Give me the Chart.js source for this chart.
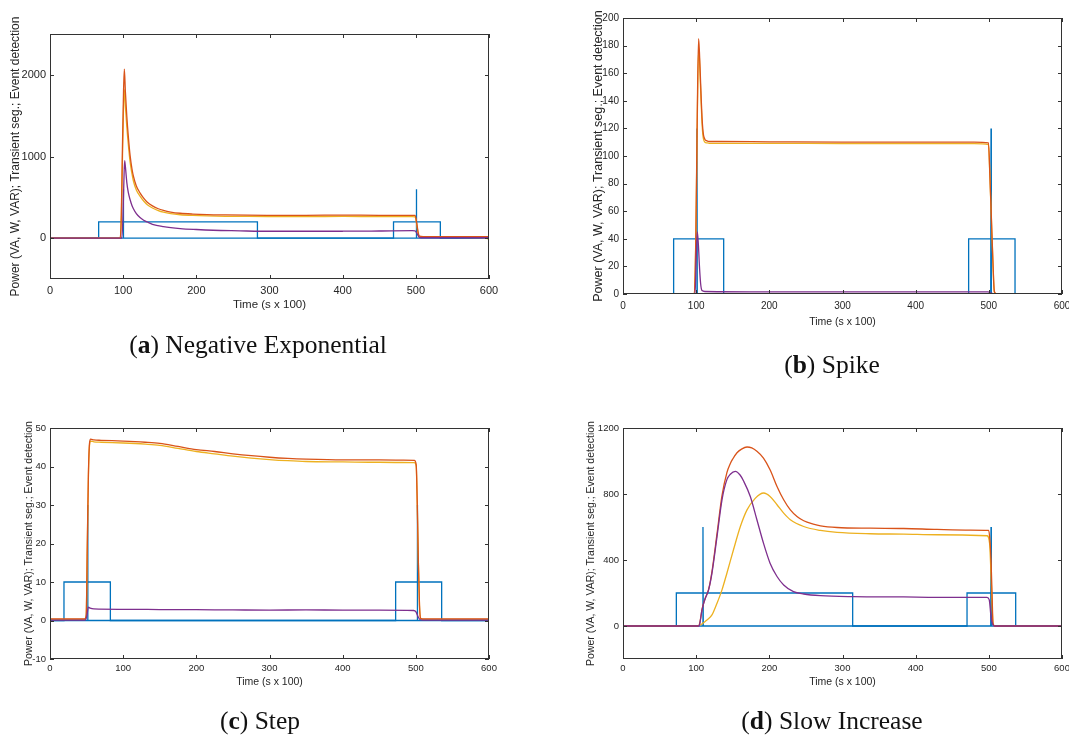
<!DOCTYPE html>
<html>
<head>
<meta charset="utf-8">
<title>Event detection examples</title>
<script src="https://cdn.jsdelivr.net/npm/chart.js@4.4.1/dist/chart.umd.min.js"></script>
<style>
    html, body { margin: 0; padding: 0; background: #fff; overflow: hidden; }
    #page { position: relative; width: 1069px; height: 735px; }
    #page canvas { position: absolute; left: 0; top: 0; }
    .caption {
        position: absolute;
        width: 400px;
        text-align: center;
        font-family: 'Liberation Serif', 'DejaVu Serif', serif;
        font-size: 25.5px;
        line-height: 24px;
        color: #111;
        white-space: nowrap;
    }
</style>
</head>
<body>
<div id="page">
    <canvas id="chart-a" width="1069" height="735"></canvas>
    <canvas id="chart-b" width="1069" height="735"></canvas>
    <canvas id="chart-c" width="1069" height="735"></canvas>
    <canvas id="chart-d" width="1069" height="735"></canvas>
    <div class="caption" style="left:58px; top:333px;">(<b>a</b>) Negative Exponential</div>
    <div class="caption" style="left:632px; top:353px;">(<b>b</b>) Spike</div>
    <div class="caption" style="left:60px; top:709px;">(<b>c</b>) Step</div>
    <div class="caption" style="left:632px; top:709px;">(<b>d</b>) Slow Increase</div>
</div>

<script>
// Shared axis ticks
const xTicks = [0, 100, 200, 300, 400, 500, 600];

// (a) Negative exponential
const aYTicks = [0, 1000, 2000];
const aTimeVA = [0, 96, 97.5, 99, 100.5, 101.6, 103, 105, 107, 109.5, 112, 114, 118, 123, 128, 133, 140, 148, 155, 165, 178, 195, 215, 240, 270, 300, 350, 400, 450, 495, 499, 501, 503, 505, 510, 550, 590, 598, 600];
const aVA = [0, 0, 300, 1100, 1800, 2070, 1800, 1490, 1250, 1010, 850, 760, 640, 555, 490, 440, 395, 360, 340, 320, 305, 295, 288, 284, 281, 280, 280, 282, 280, 280, 278, 200, 80, 25, 20, 20, 20, 20, 20];
const aW = [0, 0, 250, 950, 1600, 1820, 1620, 1360, 1150, 930, 790, 700, 590, 515, 455, 410, 370, 338, 318, 300, 287, 278, 272, 268, 266, 265, 265, 266, 265, 265, 262, 180, 60, 15, 12, 10, 8, -5, -18];
const aTimeVAR = [0, 98, 99.5, 101, 102, 103, 105, 107, 109.5, 112, 114, 118, 123, 128, 133, 140, 155, 178, 200, 223, 260, 287, 350, 400, 450, 495, 499, 502, 505, 510, 600];
const aVAR = [0, 0, 200, 700, 950, 880, 680, 560, 470, 400, 360, 300, 252, 220, 198, 170, 142, 118, 106, 97, 90, 85, 85, 85, 88, 92, 90, 50, 8, 5, 5];
const aTimeSeg = [0, 66.5, 66.5, 283.5, 283.5, 469.5, 469.5, 533.5, 533.5, 600];
const aSeg = [0, 0, 200, 200, 0, 0, 200, 200, 0, 0];
const aTimeEvt = [0, 99.8, 100.2, 100.6, 500.3, 500.7, 501.1, 600];
const aEvt = [0, 0, 600, 0, 0, 600, 0, 0];

// (b) Spike
const bYTicks = [0, 20, 40, 60, 80, 100, 120, 140, 160, 180, 200];
const bTimeVA = [0, 97.5, 99.5, 101.5, 103.3, 104.5, 105.6, 107, 108, 109, 110.1, 112, 114.7, 118, 130, 200, 300, 400, 480, 499.5, 501.5, 503.5, 505.5, 507.5, 510, 600];
const bVA = [0.3, 0.3, 40, 130, 185, 175, 160, 140, 128, 120, 115, 112, 111, 110.5, 110.5, 110.3, 110, 110, 110, 109.5, 85, 55, 25, 2, 0.3, 0.3];
const bW = [0.2, 0.2, 38, 125, 177, 170, 155, 136, 124, 116, 112, 110, 109.5, 109.2, 109.2, 109.2, 109, 109, 109, 108.3, 84, 54, 24, 1.5, 0.2, 0.2];
const bTimeVAR = [0, 98.5, 100, 101.6, 103, 104.5, 106, 108, 112, 200, 300, 400, 499, 503, 506, 600];
const bVAR = [0.3, 0.3, 25, 45, 36, 20, 8, 2.5, 1.8, 1.5, 1.5, 1.5, 1.5, 0.6, 0.3, 0.3];
const bTimeSeg = [0, 69.2, 69.2, 137.6, 137.6, 472.4, 472.4, 535.8, 535.8, 600];
const bSeg = [0, 0, 40, 40, 0, 0, 40, 40, 0, 0];
const bTimeEvt = [0, 100.7, 101.1, 101.5, 502.6, 503, 503.4, 600];
const bEvt = [0, 0, 120, 0, 0, 120, 0, 0];

// (c) Step
const cYTicks = [-10, 0, 10, 20, 30, 40, 50];
const cTimeVA = [0, 47.5, 49.5, 51, 52.5, 54, 55.5, 60, 70, 100, 130, 150, 175, 200, 225, 250, 275, 300, 325, 350, 400, 450, 498, 500.5, 502, 503.5, 505, 506.5, 510, 600];
const cVA = [0.4, 0.4, 1.5, 20, 38, 46, 47.1, 46.9, 46.8, 46.6, 46.3, 46.0, 45.2, 44.4, 43.9, 43.3, 42.8, 42.4, 42.1, 41.9, 41.7, 41.7, 41.6, 40.5, 30, 15, 4, 0.6, 0.4, 0.4];
const cW = [0.3, 0.3, 1.3, 19.5, 37.5, 45.5, 46.6, 46.4, 46.3, 46.1, 45.8, 45.5, 44.7, 43.9, 43.3, 42.7, 42.2, 41.8, 41.5, 41.3, 41.2, 41.1, 41.0, 40, 29.5, 14.5, 3.8, 0.5, 0.3, 0.3];
const cTimeVAR = [0, 48, 50, 52.5, 55, 60, 100, 150, 200, 250, 300, 350, 400, 450, 497, 500, 503, 506, 510, 600];
const cVAR = [0.1, 0.1, 0.8, 3.5, 3.2, 3.0, 2.9, 2.85, 2.8, 2.75, 2.7, 2.75, 2.7, 2.7, 2.6, 2.3, 1.0, 0.2, 0.1, 0.1];
const cTimeSeg = [0, 19.1, 19.1, 82.5, 82.5, 472.4, 472.4, 535.3, 535.3, 600];
const cSeg = [0, 0, 10, 10, 0, 0, 10, 10, 0, 0];
const cTimeEvt = [0, 51.1, 51.5, 51.9, 501.6, 502, 502.4, 600];
const cEvt = [0, 0, 30, 0, 0, 30, 0, 0];

// (d) Slow increase
const dYTicks = [0, 400, 800, 1200];
const dTimeVA = [0, 103, 105, 108, 110.3, 112.5, 117, 121.6, 128.5, 135.3, 142, 146.7, 150, 155.8, 162, 169.5, 176, 183, 192, 201, 210.5, 219.6, 228.7, 237.8, 247, 260, 270, 292.5, 338, 383.6, 429, 474.7, 499.8, 501.5, 503, 504.5, 505.7, 508, 600];
const dVA = [0, 0, 20, 100, 140, 170, 222, 330, 560, 790, 930, 985, 1012, 1050, 1072, 1085, 1079, 1059, 1018, 947, 846, 765, 704, 664, 638, 618, 607, 597, 593, 591, 585, 581, 579, 520, 400, 180, 16, 0, 0];
const dTimeW = [0, 100, 105.7, 110, 114.8, 121.6, 128.5, 135.3, 142, 151, 160.4, 169.5, 181, 187, 192.3, 201, 210.5, 219.6, 228.7, 247, 269.7, 292.5, 338, 383.6, 429, 497.5, 501, 503.5, 505.7, 508, 600];
const dW = [0, 0, 6, 20, 36, 67, 138, 219, 320, 462, 603, 704, 775, 798, 806, 785, 735, 684, 644, 603, 579, 567, 559, 557, 553, 547, 502, 250, 16, 0, 0];
const dTimeVAR = [0, 104, 105, 108, 110.3, 112.5, 117, 121.6, 128.5, 135.3, 142, 146.7, 153.5, 160, 165, 174, 183, 192, 201, 210.5, 219.6, 233, 247, 269.7, 315, 383.6, 429, 497.5, 500.5, 503, 505.7, 508, 600];
const dVAR = [0, 0, 15, 97, 138, 168, 219, 320, 542, 765, 887, 920, 937, 915, 877, 785, 644, 502, 381, 300, 249, 208, 194, 184, 178, 176, 174, 174, 160, 57, 6, 0, 0];
const dTimeSeg = [0, 72.9, 72.9, 313.9, 313.9, 470.2, 470.2, 536.7, 536.7, 600];
const dSeg = [0, 0, 200, 200, 0, 0, 200, 200, 0, 0];
const dTimeEvt = [0, 108.9, 109.3, 109.7, 502.6, 503, 503.4, 600];
const dEvt = [0, 0, 600, 0, 0, 600, 0, 0];

// MATLAB default colour order
const BLUE = '#0072BD';
const ORANGE = '#D95319';
const YELLOW = '#EDB120';
const PURPLE = '#7E2F8E';

const FONT = "'Liberation Sans', Arial, Helvetica, sans-serif";
const TEXT = '#262626';
const Y_TITLE = 'Power (VA, W, VAR); Transient seg.; Event detection';

function toPoints(xs, ys) {
    return xs.map((x, i) => ({ x: x, y: ys[i] }));
}

// Box around the plot area with inward tick marks on all four sides
const boxTicks = {
    id: 'boxTicks',
    afterDatasetsDraw(chart) {
        const { ctx, chartArea: a, scales } = chart;
        const len = 4;
        ctx.save();
        ctx.strokeStyle = '#333';
        ctx.lineWidth = 1;
        ctx.beginPath();
        scales.x.ticks.forEach(t => {
            const px = Math.round(scales.x.getPixelForValue(t.value)) + 0.5;
            ctx.moveTo(px, a.bottom); ctx.lineTo(px, a.bottom - len);
            ctx.moveTo(px, a.top); ctx.lineTo(px, a.top + len);
        });
        scales.y.ticks.forEach(t => {
            const py = Math.round(scales.y.getPixelForValue(t.value)) + 0.5;
            ctx.moveTo(a.left, py); ctx.lineTo(a.left + len, py);
            ctx.moveTo(a.right, py); ctx.lineTo(a.right - len, py);
        });
        ctx.stroke();
        ctx.strokeRect(a.left + 0.5, a.top + 0.5, a.right - a.left - 1, a.bottom - a.top - 1);
        ctx.restore();
    }
};

function makePanel(id, p) {
    const ctx = document.getElementById(id).getContext('2d');

    const line = (label, pts, color, smooth) => ({
        label: label,
        data: pts,
        borderColor: color,
        backgroundColor: color,
        borderWidth: 1.3,
        pointRadius: 0,
        fill: false,
        cubicInterpolationMode: smooth ? 'monotone' : 'default',
        tension: 0
    });

    // First dataset is drawn on top
    const datasets = [
        line('VAR', p.varPts, PURPLE, true),
        line('VA', p.vaPts, ORANGE, true),
        line('W', p.wPts, YELLOW, true),
        line('Event detection', p.evtPts, BLUE, false),
        line('Transient seg.', p.segPts, BLUE, false)
    ];

    new Chart(ctx, {
        type: 'line',
        data: { datasets: datasets },
        options: {
            responsive: false,
            animation: false,
            events: [],
            layout: {
                padding: { left: p.yLeft, top: p.top, right: 1069 - p.right, bottom: 735 - p.xBottom }
            },
            plugins: {
                legend: { display: false },
                tooltip: { enabled: false }
            },
            scales: {
                x: {
                    type: 'linear',
                    min: 0,
                    max: 600,
                    afterBuildTicks: s => { s.ticks = xTicks.map(v => ({ value: v })); },
                    afterFit: s => { s.height = p.xBottom - p.bottom; s.paddingLeft = 0; s.paddingRight = 0; },
                    grid: { display: false, drawTicks: false, tickLength: 0 },
                    border: { display: false },
                    ticks: {
                        autoSkip: false,
                        maxRotation: 0,
                        padding: p.xPad,
                        color: TEXT,
                        font: { family: FONT, size: p.tickSize },
                        callback: v => String(v)
                    },
                    title: {
                        display: true,
                        text: 'Time (s x 100)',
                        color: TEXT,
                        padding: { top: 0, bottom: 4 },
                        font: { family: FONT, size: p.xTitleSize }
                    }
                },
                y: {
                    type: 'linear',
                    min: p.yMin,
                    max: p.yMax,
                    afterBuildTicks: s => { s.ticks = p.yTicks.map(v => ({ value: v })); },
                    afterFit: s => { s.width = p.left - p.yLeft; s.paddingTop = 0; s.paddingBottom = 0; },
                    grid: { display: false, drawTicks: false, tickLength: 0 },
                    border: { display: false },
                    ticks: {
                        autoSkip: false,
                        padding: 4,
                        color: TEXT,
                        font: { family: FONT, size: p.tickSize },
                        callback: v => String(v)
                    },
                    title: {
                        display: true,
                        text: Y_TITLE,
                        color: TEXT,
                        padding: { top: 4, bottom: 0 },
                        font: { family: FONT, size: p.yTitleSize }
                    }
                }
            }
        },
        plugins: [boxTicks]
    });
}

makePanel('chart-a', {
    yLeft: 4, left: 50, top: 34, right: 489, bottom: 279, xBottom: 316,
    yMin: -500, yMax: 2500, yTicks: aYTicks,
    tickSize: 11, xTitleSize: 11.5, yTitleSize: 12, xPad: 5,
    vaPts: toPoints(aTimeVA, aVA), wPts: toPoints(aTimeVA, aW), varPts: toPoints(aTimeVAR, aVAR),
    segPts: toPoints(aTimeSeg, aSeg), evtPts: toPoints(aTimeEvt, aEvt)
});

makePanel('chart-b', {
    yLeft: 587, left: 623, top: 18, right: 1062, bottom: 294, xBottom: 332,
    yMin: 0, yMax: 200, yTicks: bYTicks,
    tickSize: 10, xTitleSize: 10.5, yTitleSize: 12.5, xPad: 6,
    vaPts: toPoints(bTimeVA, bVA), wPts: toPoints(bTimeVA, bW), varPts: toPoints(bTimeVAR, bVAR),
    segPts: toPoints(bTimeSeg, bSeg), evtPts: toPoints(bTimeEvt, bEvt)
});

makePanel('chart-c', {
    yLeft: 19, left: 50, top: 428, right: 489, bottom: 659, xBottom: 692,
    yMin: -10, yMax: 50, yTicks: cYTicks,
    tickSize: 9.5, xTitleSize: 10.5, yTitleSize: 10.5, xPad: 4,
    vaPts: toPoints(cTimeVA, cVA), wPts: toPoints(cTimeVA, cW), varPts: toPoints(cTimeVAR, cVAR),
    segPts: toPoints(cTimeSeg, cSeg), evtPts: toPoints(cTimeEvt, cEvt)
});

makePanel('chart-d', {
    yLeft: 581, left: 623, top: 428, right: 1062, bottom: 659, xBottom: 692,
    yMin: -200, yMax: 1200, yTicks: dYTicks,
    tickSize: 9.5, xTitleSize: 10.5, yTitleSize: 10.5, xPad: 4,
    vaPts: toPoints(dTimeVA, dVA), wPts: toPoints(dTimeW, dW), varPts: toPoints(dTimeVAR, dVAR),
    segPts: toPoints(dTimeSeg, dSeg), evtPts: toPoints(dTimeEvt, dEvt)
});
</script>
</body>
</html>
